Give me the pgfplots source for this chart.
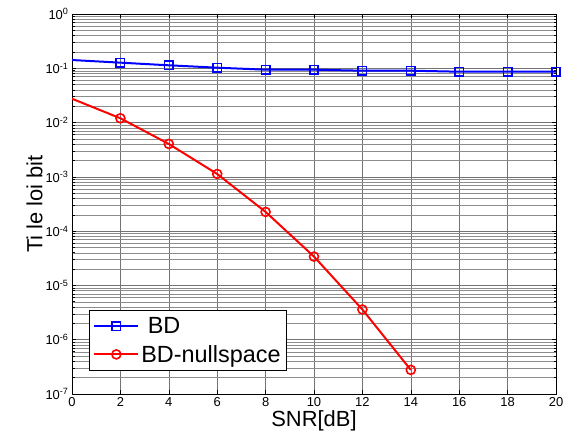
\documentclass[border=0pt]{standalone}
\usepackage{fontspec}
\setmainfont{Liberation Sans}
\usepackage{pgfplots}
\pgfplotsset{compat=1.18}
\begin{document}
\begin{tikzpicture}
\begin{axis}[
  width=484bp, height=380bp, scale only axis,
  xmin=0, xmax=20, ymin=1e-7, ymax=1,
  ymode=log, log basis y=10,
  xtick={0,2,...,20},
  ytick={1e-7,1e-6,1e-5,1e-4,1e-3,1e-2,1e-1,1},
  yticklabels={10\textsuperscript{-7},10\textsuperscript{-6},10\textsuperscript{-5},10\textsuperscript{-4},10\textsuperscript{-3},10\textsuperscript{-2},10\textsuperscript{-1},10\textsuperscript{0}},
  minor ytick={2e-7,3e-7,4e-7,5e-7,6e-7,7e-7,8e-7,9e-7,
               2e-6,3e-6,4e-6,5e-6,6e-6,7e-6,8e-6,9e-6,
               2e-5,3e-5,4e-5,5e-5,6e-5,7e-5,8e-5,9e-5,
               2e-4,3e-4,4e-4,5e-4,6e-4,7e-4,8e-4,9e-4,
               2e-3,3e-3,4e-3,5e-3,6e-3,7e-3,8e-3,9e-3,
               2e-2,3e-2,4e-2,5e-2,6e-2,7e-2,8e-2,9e-2,
               2e-1,3e-1,4e-1,5e-1,6e-1,7e-1,8e-1,9e-1},
  /pgf/number format/assume math mode=true,
  tick label style={font=\fontsize{13}{15}\selectfont},
  label style={font=\fontsize{22}{26}\selectfont},
  xlabel={SNR[dB]},
  ylabel={Ti le loi bit},
  xlabel style={yshift=3bp},
  ylabel style={yshift=-4bp},
  grid=both,
  major grid style={black!55, line width=0.5bp},
  minor grid style={black!45, line width=0.45bp},
  tick align=inside,
  major tick length=4bp, minor tick length=2.5bp,
  tick style={black, line width=0.6bp},
  axis line style={black, line width=1bp},
  legend style={at={(0.035,0.0605)}, anchor=south west, draw=black, line width=0.8bp,
    font=\fontsize{23.5}{27}\selectfont, inner xsep=4bp, inner ysep=5bp, row sep=6bp},
  legend cell align=left,
  legend image code/.code={\draw[#1, mark indices={2}] plot coordinates {(0bp,0bp)(22bp,0bp)(44bp,0bp)};},
]
\addplot[blue, line width=2bp, mark=square, mark size=4.2bp, mark indices={2,3,...,11}, mark options={line width=1.6bp, solid}]
coordinates {(0,0.142)(2,0.127)(4,0.1135)(6,0.1026)(8,0.0942)(10,0.0942)(12,0.0903)(14,0.0903)(16,0.0865)(18,0.0865)(20,0.0865)};
\addlegendentry{\ BD}
\addplot[red, line width=2bp, mark=o, mark size=4.5bp, mark indices={2,3,...,8}, mark options={line width=1.6bp, solid}]
coordinates {(0,0.0275)(2,0.0120)(4,0.00404)(6,0.00113)(8,2.26e-4)(10,3.4e-5)(12,3.6e-6)(14,2.78e-7)};
\addlegendentry{BD-nullspace}
\end{axis}
\path (current axis.south west) ++(-72bp,-54bp) coordinate (bbsw);
\path (current axis.north east) ++(25bp,14bp) coordinate (bbne);
\useasboundingbox (bbsw) rectangle (bbne);
\end{tikzpicture}
\end{document}
